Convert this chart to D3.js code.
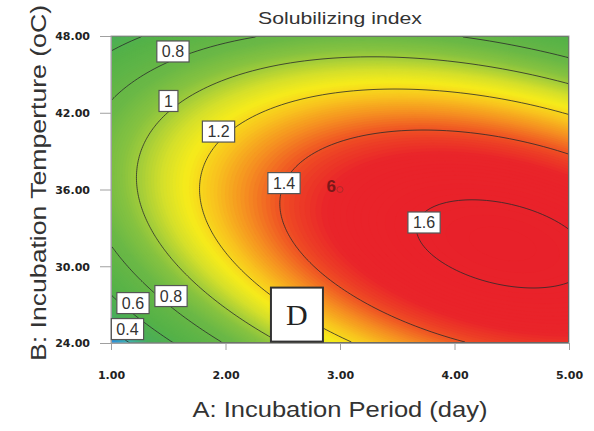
<!DOCTYPE html>
<html><head><meta charset="utf-8">
<script src="https://cdn.jsdelivr.net/npm/d3@7"></script>
<style>body{margin:0;background:#fff} svg{display:block}</style>
</head><body>
<svg id="chart" width="594" height="431"></svg>
<script>
// ---------------- data ----------------
const xTicks = [1, 2, 3, 4, 5];
const yTicks = [24, 30, 36, 42, 48];
const contourLevels = [0.4, 0.6, 0.8, 1.0, 1.2, 1.4, 1.6];
// Quadratic response-surface model, coded units a=(A-3)/2, b=(B-36)/12
const coefTerms  = ["Intercept", "A", "B", "AB", "A^2", "B^2"];
const coefValues = [1.497, 0.310, -0.159, -0.264, -0.284, -0.489];
// contour label anchors (in data units)
const labelText = ["0.8", "1", "1.2", "1.4", "1.6", "0.6", "0.8", "0.4"];
const labelA    = [1.541, 1.502, 1.939, 2.511, 3.734, 1.192, 1.524, 1.144];
const labelB    = [46.79, 42.92, 40.53, 36.50, 33.42, 27.12, 27.67, 25.09];
const centerPoint = {A: 3, B: 36, reps: 6};
const panelLetter = {text: "D", A: 2.624, B: 26.22};

// ---------------- layout ----------------
const m = {l: 111, t: 36}, pw = 458, ph = 307;
const svg = d3.select("#chart");
const x = d3.scaleLinear().domain([1, 5]).range([m.l, m.l + pw]);
const y = d3.scaleLinear().domain([24, 48]).range([m.t + ph, m.t]);

function model(A, B) {
  const a = (A - 3) / 2, b = (B - 36) / 12, c = coefValues;
  return c[0] + c[1]*a + c[2]*b + c[3]*a*b + c[4]*a*a + c[5]*b*b;
}

const nx = 229, ny = 154;
const grid = new Float64Array(nx * ny);
for (let j = 0; j < ny; j++) for (let i = 0; i < nx; i++) {
  const A = x.invert(m.l + (i + 0.5) * pw / nx);
  const B = y.invert(m.t + (j + 0.5) * ph / ny);
  grid[j * nx + i] = model(A, B);
}
const proj = d3.geoTransform({point(px, py) { this.stream.point(m.l + px * pw / nx, m.t + py * ph / ny); }});
const path = d3.geoPath(proj);

const color = d3.scaleLinear()
  .domain([0.32, 0.40, 0.50, 0.65, 0.85, 0.95, 1.02, 1.09, 1.16, 1.24, 1.32, 1.41, 1.49, 1.70])
  .range(["#2a8ee0", "#3fb2b0", "#4aae5a", "#55b247", "#6bb846", "#86c240", "#a9cf38", "#d6e02a",
          "#f6eb1b", "#f8c41e", "#f59021", "#ee4a24", "#e9242a", "#e8202a"])
  .clamp(true);

svg.append("defs").append("clipPath").attr("id", "clip")
  .append("rect").attr("x", m.l).attr("y", m.t).attr("width", pw).attr("height", ph);

const plot = svg.append("g").attr("clip-path", "url(#clip)");
plot.append("rect").attr("x", m.l).attr("y", m.t).attr("width", pw).attr("height", ph)
  .attr("fill", color(0.3));

const fillThresholds = d3.range(0.30, 1.66, 0.01);
const bands = d3.contours().size([nx, ny]).thresholds(fillThresholds)(grid);
plot.append("g").selectAll("path").data(bands).join("path")
  .attr("d", path).attr("fill", d => color(d.value + 0.005)).attr("stroke", d => color(d.value + 0.005))
  .attr("stroke-width", 0.3);

const lines = d3.contours().size([nx, ny]).thresholds(contourLevels)(grid);
plot.append("g").selectAll("path").data(lines).join("path")
  .attr("d", path).attr("fill", "none").attr("stroke", "#2b2b2b").attr("stroke-opacity", 0.8)
  .attr("stroke-width", 1);

// border
svg.append("rect").attr("x", m.l).attr("y", m.t).attr("width", pw).attr("height", ph)
  .attr("fill", "none").attr("stroke", "#a0a0a0").attr("stroke-width", 1);

// axes
const fmt = d3.format(".2f");
const gx = svg.append("g").attr("transform", `translate(0,${m.t + ph})`)
  .call(d3.axisBottom(x).tickValues(xTicks).tickFormat(fmt).tickSizeInner(7).tickSizeOuter(0).tickPadding(21));
const gy = svg.append("g").attr("transform", `translate(${m.l},0)`)
  .call(d3.axisLeft(y).tickValues(yTicks).tickFormat(fmt).tickSizeInner(11).tickSizeOuter(0).tickPadding(10));
[gx, gy].forEach(g => {
  g.select(".domain").attr("stroke", "#a0a0a0");
  g.selectAll(".tick line").attr("stroke", "#a0a0a0");
  g.selectAll(".tick text").attr("font-family", "DejaVu Sans").attr("font-weight", "bold")
    .attr("font-size", 11).attr("fill", "#222");
});
gy.selectAll(".tick text").attr("dy", "0.36em");

// contour labels
const lab = svg.append("g");
labelText.forEach((t, k) => {
  const cx = x(labelA[k]), cy = y(labelB[k]);
  const g = lab.append("g");
  const r = g.append("rect");
  const tx = g.append("text").attr("x", cx).attr("y", cy).attr("dy", "0.36em")
    .attr("text-anchor", "middle").attr("font-family", "Liberation Sans, Arial, sans-serif")
    .attr("font-size", 16).attr("fill", "#333").text(t);
  const w = tx.node().getComputedTextLength() + 10, h = 21;
  r.attr("x", cx - w / 2).attr("y", cy - h / 2).attr("width", w).attr("height", h)
    .attr("fill", "#fff").attr("stroke", "#555").attr("stroke-width", 1.2);
});

// center point replicates
svg.append("circle").attr("cx", x(centerPoint.A)).attr("cy", y(centerPoint.B)).attr("r", 3)
  .attr("fill", "none").attr("stroke", "#b02828").attr("stroke-width", 1);
svg.append("text").attr("x", x(centerPoint.A) - 4).attr("y", y(centerPoint.B) + 2)
  .attr("text-anchor", "end").attr("font-family", "Liberation Sans, Arial, sans-serif")
  .attr("font-weight", "bold").attr("font-size", 17).attr("fill", "#7a1818").text(centerPoint.reps);

// panel letter
{
  const cx = x(panelLetter.A), cy = y(panelLetter.B), w = 52, h = 54;
  svg.append("rect").attr("x", cx - w / 2).attr("y", cy - h / 2).attr("width", w).attr("height", h)
    .attr("fill", "#fff").attr("stroke", "#333").attr("stroke-width", 2);
  svg.append("text").attr("x", cx).attr("y", cy).attr("dy", "0.35em").attr("text-anchor", "middle")
    .attr("font-family", "Liberation Serif, serif").attr("font-size", 30).attr("fill", "#222")
    .text(panelLetter.text);
}

// titles
svg.append("text").attr("x", 340).attr("y", 24).attr("text-anchor", "middle")
  .attr("font-family", "Liberation Sans, Arial, sans-serif").attr("font-size", 17).attr("fill", "#333")
  .attr("textLength", 164).attr("lengthAdjust", "spacingAndGlyphs").text("Solubilizing index");
svg.append("text").attr("x", 340).attr("y", 417).attr("text-anchor", "middle")
  .attr("font-family", "Liberation Sans, Arial, sans-serif").attr("font-size", 22).attr("fill", "#333")
  .attr("textLength", 295).attr("lengthAdjust", "spacingAndGlyphs").text("A: Incubation Period (day)");
svg.append("text").attr("transform", "translate(46,183) rotate(-90)").attr("text-anchor", "middle")
  .attr("font-family", "Liberation Sans, Arial, sans-serif").attr("font-size", 22).attr("fill", "#333")
  .attr("textLength", 356).attr("lengthAdjust", "spacingAndGlyphs").text("B: Incubation Temperture (oC)");
</script>
</body></html>
